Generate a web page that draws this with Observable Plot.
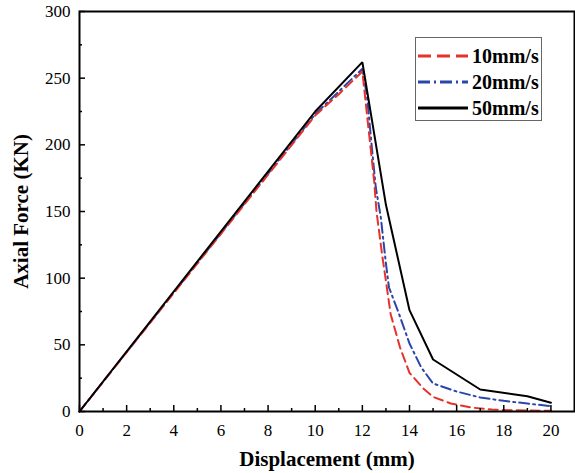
<!DOCTYPE html>
<html><head><meta charset="utf-8">
<script src="https://cdn.jsdelivr.net/npm/d3@7"></script>
<script src="https://cdn.jsdelivr.net/npm/@observablehq/plot@0.6"></script>
<style>
body{margin:0;background:#fff;}
#wrap{position:relative;width:575px;height:473px;}
#chart svg, #chart svg g, #chart svg text{font-family:"Liberation Serif","Times New Roman",serif !important;}
#chart g[aria-label="x-axis label"] text, #chart g[aria-label="y-axis label"] text{font-weight:bold;font-size:21px;}
#legend{position:absolute;left:415px;top:37px;width:127px;height:84px;border:1px solid #666;box-sizing:border-box;background:#fff;font-family:"Liberation Serif","Times New Roman",serif;font-weight:bold;font-size:20px;}
.row{position:absolute;left:1px;display:flex;align-items:center;height:26px;white-space:nowrap;}
.row span{margin-left:4px;}
</style></head>
<body>
<div id="wrap"><div id="chart"></div><div id="legend"></div></div>
<script>
const seriesNames = ["10mm/s", "20mm/s", "50mm/s"];
const seriesColors = ["#e5322b", "#2b46ab", "#000000"];
const seriesDash = ["9,5", "10,4,2,4", null];

const disp10 = [0, 10, 11, 12, 12.5, 12.6, 12.85, 13, 13.2, 13.6, 14, 14.6, 15, 15.75, 16.6, 17.5, 18.3, 20];
const force10 = [0, 222, 238, 255, 173, 150, 116, 98, 73, 48, 29, 17, 11, 6, 3, 1.5, 1, 0.5];

const disp20 = [0, 10, 11, 12, 12.2, 12.43, 12.57, 12.78, 13, 13.13, 13.56, 14, 14.5, 15, 16, 17, 18, 19, 20];
const force20 = [0, 223, 240, 257, 236, 193, 168, 146, 111, 93, 73, 51, 33, 21, 15, 10.5, 8, 6, 4];

const disp50 = [0, 10, 12, 13, 14, 15, 17, 19, 20];
const force50 = [0, 225, 262, 155, 76, 39, 16.5, 11.5, 6.5];

const xTicks = [0, 2, 4, 6, 8, 10, 12, 14, 16, 18, 20];
const xMinor = [1, 3, 5, 7, 9, 11, 13, 15, 17, 19];
const yTicks = [0, 50, 100, 150, 200, 250, 300];
const yMinor = [25, 75, 125, 175, 225, 275];

const toRows = (xs, ys) => xs.map((x, i) => ({x, y: ys[i]}));
const series = [toRows(disp10, force10), toRows(disp20, force20), toRows(disp50, force50)];

const lineMark = (k) => Plot.line(series[k], {x: "x", y: "y", stroke: seriesColors[k], strokeWidth: 2, strokeDasharray: seriesDash[k], strokeLinejoin: "miter"});
const empty = () => "";

const chart = Plot.plot({
  width: 575, height: 473,
  marginLeft: 79, marginRight: 1, marginTop: 11, marginBottom: 62,
  x: {domain: [0, 21]},
  y: {domain: [0, 300]},
  style: {fontFamily: "'Liberation Serif', serif", fontSize: "17px", color: "black", background: "white"},
  marks: [
    lineMark(1),
    lineMark(0),
    lineMark(2),
    Plot.axisX(xTicks, {tickSize: 0, tickPadding: 12, fontSize: 17, label: "Displacement (mm)", labelAnchor: "center", labelArrow: "none", labelOffset: 54}),
    Plot.axisX(xTicks, {tickSize: -6, tickFormat: empty, label: null, strokeWidth: 1.5}),
    Plot.axisX(xMinor, {tickSize: -3, tickFormat: empty, label: null, strokeWidth: 1.5}),
    Plot.axisY(yTicks, {tickSize: 0, tickPadding: 9, fontSize: 17, label: "Axial Force (KN)", labelAnchor: "center", labelArrow: "none", labelOffset: 66}),
    Plot.axisY(yTicks, {tickSize: -6, tickFormat: empty, label: null, strokeWidth: 1.5}),
    Plot.axisY(yMinor, {tickSize: -3, tickFormat: empty, label: null, strokeWidth: 1.5}),
    Plot.frame({stroke: "black", strokeWidth: 2})
  ]
});
document.getElementById("chart").append(chart);

const legend = document.getElementById("legend");
seriesNames.forEach((name, k) => {
  const row = document.createElement("div");
  row.className = "row";
  row.style.top = (5 + k * 26) + "px";
  const dash = seriesDash[k] ? ` stroke-dasharray="${k === 0 ? '13,6' : '12,4,2,4'}"` : "";
  row.innerHTML = `<svg width="51" height="26"><line x1="1" x2="51" y1="13" y2="13" stroke="${seriesColors[k]}" stroke-width="3"${dash}/></svg><span>${name}</span>`;
  legend.append(row);
});
</script>
</body></html>
